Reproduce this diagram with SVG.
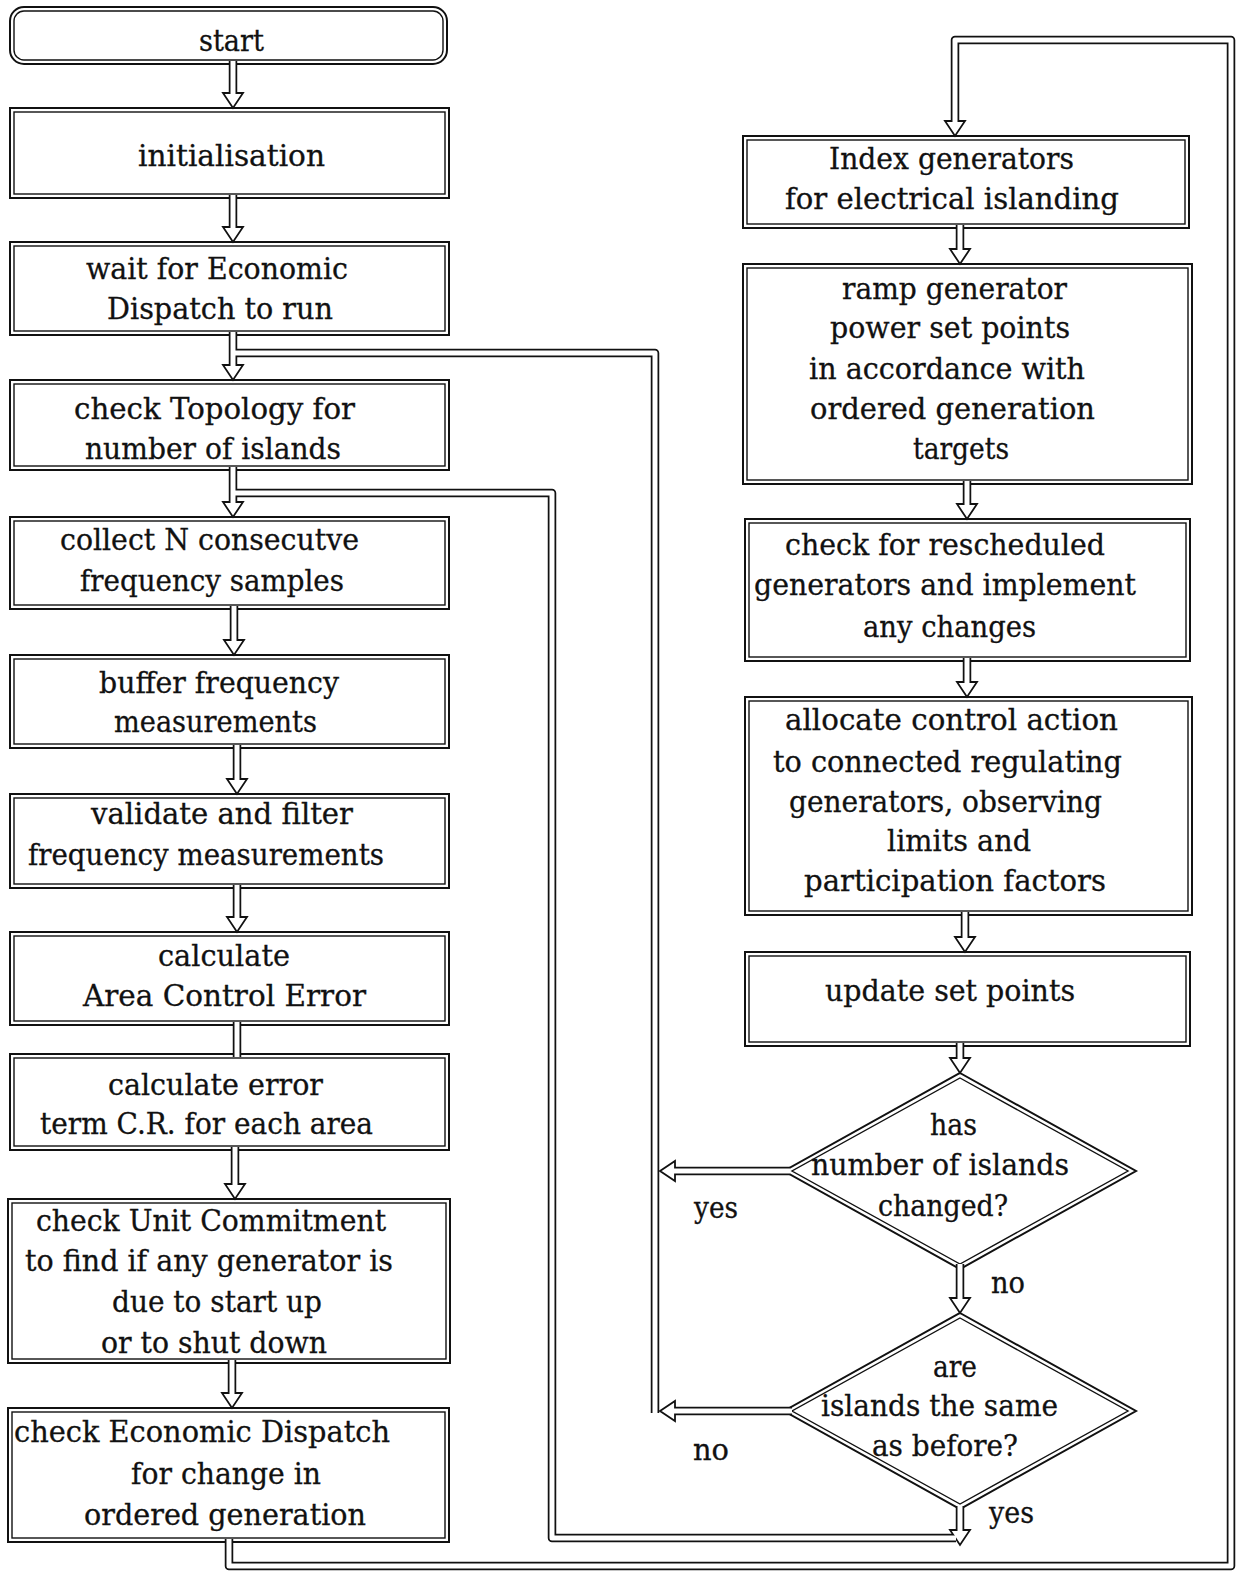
<svg xmlns="http://www.w3.org/2000/svg" xmlns:xlink="http://www.w3.org/1999/xlink" width="1243" height="1579" viewBox="0 0 1243 1579">
  <style>
    .outer { fill: #fff; stroke: #111; stroke-width: 2; }
    .inner { fill: none; stroke: #111; stroke-width: 1.4; }
    .pipe-o { fill: none; stroke: #111; stroke-width: 8.5; stroke-linejoin: round; }
    .pipe-i { fill: none; stroke: #fff; stroke-width: 5; stroke-linejoin: round; }
    .head { fill: #fff; stroke: #111; stroke-width: 1.8; stroke-linejoin: miter; }
    text { font-family: "DejaVu Serif", "Liberation Serif", serif; font-size: 29px; fill: #111; stroke: #111; stroke-width: 0.3; }
  </style>
  <defs>
    <!-- pipe centre lines; each is stroked twice (dark walls, then light core) -->
    <path id="c1" d="M233,61 V96"/>
    <path id="c2" d="M233,195 V230"/>
    <path id="c3" d="M233,332 V368"/>
    <path id="c4" d="M233,467 V505"/>
    <path id="c5" d="M234,606 V643"/>
    <path id="c6" d="M237,745 V782"/>
    <path id="c7" d="M237,885 V920"/>
    <path id="c8" d="M237,1022 V1057"/>
    <path id="c9" d="M235,1147 V1187"/>
    <path id="c10" d="M232,1360 V1396"/>
    <path id="r1" d="M960,225 V252"/>
    <path id="r2" d="M967,481 V507"/>
    <path id="r3" d="M967,658 V685"/>
    <path id="r4" d="M965,912 V940"/>
    <path id="r5" d="M960,1043 V1061"/>
    <path id="r6" d="M960,1264 V1301"/>
    <path id="r7" d="M960,1506 V1533"/>
    <path id="y1" d="M790,1171 H672"/>
    <path id="n2" d="M792,1411 H672"/>
    <!-- return loops -->
    <path id="loopA" d="M655,1413 V353 H233"/>
    <path id="loopB" d="M956,1538 H552 V493 H233"/>
    <path id="loopC" d="M229,1539 V1566 H1231 V40 H955 V124"/>
  </defs>

  <rect width="1243" height="1579" fill="#fff"/>

  <!-- left column -->
  <g id="start">
    <rect class="outer" x="10" y="7" width="437" height="57" rx="14"/>
    <rect class="inner" x="14" y="11" width="429" height="49" rx="10"/>
    <text x="199" y="51" textLength="65" lengthAdjust="spacingAndGlyphs">start</text>
  </g>
  <g id="initialisation">
    <rect class="outer" x="10" y="108" width="439" height="90"/>
    <rect class="inner" x="14" y="112" width="431" height="82"/>
    <text x="138" y="166" textLength="187" lengthAdjust="spacingAndGlyphs">initialisation</text>
  </g>
  <g id="wait-dispatch">
    <rect class="outer" x="10" y="242" width="439" height="93"/>
    <rect class="inner" x="14" y="246" width="431" height="85"/>
    <text x="86" y="279" textLength="262" lengthAdjust="spacingAndGlyphs">wait for Economic</text>
    <text x="107" y="319" textLength="226" lengthAdjust="spacingAndGlyphs">Dispatch to run</text>
  </g>
  <g id="check-topology">
    <rect class="outer" x="10" y="380" width="439" height="90"/>
    <rect class="inner" x="14" y="384" width="431" height="82"/>
    <text x="74" y="419" textLength="281" lengthAdjust="spacingAndGlyphs">check Topology for</text>
    <text x="85" y="459" textLength="256" lengthAdjust="spacingAndGlyphs">number of islands</text>
  </g>
  <g id="collect-samples">
    <rect class="outer" x="10" y="517" width="439" height="92"/>
    <rect class="inner" x="14" y="521" width="431" height="84"/>
    <text x="60" y="550" textLength="299" lengthAdjust="spacingAndGlyphs">collect N consecutve</text>
    <text x="80" y="591" textLength="264" lengthAdjust="spacingAndGlyphs">frequency samples</text>
  </g>
  <g id="buffer-frequency">
    <rect class="outer" x="10" y="655" width="439" height="93"/>
    <rect class="inner" x="14" y="659" width="431" height="85"/>
    <text x="99" y="693" textLength="240" lengthAdjust="spacingAndGlyphs">buffer frequency</text>
    <text x="114" y="732" textLength="203" lengthAdjust="spacingAndGlyphs">measurements</text>
  </g>
  <g id="validate-filter">
    <rect class="outer" x="10" y="794" width="439" height="94"/>
    <rect class="inner" x="14" y="798" width="431" height="86"/>
    <text x="91" y="824" textLength="262" lengthAdjust="spacingAndGlyphs">validate and filter</text>
    <text x="28" y="865" textLength="356" lengthAdjust="spacingAndGlyphs">frequency measurements</text>
  </g>
  <g id="calc-ace">
    <rect class="outer" x="10" y="932" width="439" height="93"/>
    <rect class="inner" x="14" y="936" width="431" height="85"/>
    <text x="158" y="966" textLength="132" lengthAdjust="spacingAndGlyphs">calculate</text>
    <text x="83" y="1006" textLength="283" lengthAdjust="spacingAndGlyphs">Area Control Error</text>
  </g>
  <g id="calc-error-term">
    <rect class="outer" x="10" y="1054" width="439" height="96"/>
    <rect class="inner" x="14" y="1058" width="431" height="88"/>
    <text x="108" y="1095" textLength="215" lengthAdjust="spacingAndGlyphs">calculate error</text>
    <text x="40" y="1134" textLength="333" lengthAdjust="spacingAndGlyphs">term C.R. for each area</text>
  </g>
  <g id="unit-commitment">
    <rect class="outer" x="8" y="1199" width="442" height="164"/>
    <rect class="inner" x="12" y="1203" width="434" height="156"/>
    <text x="36" y="1231" textLength="350" lengthAdjust="spacingAndGlyphs">check Unit Commitment</text>
    <text x="25" y="1271" textLength="368" lengthAdjust="spacingAndGlyphs">to find if any generator is</text>
    <text x="112" y="1312" textLength="210" lengthAdjust="spacingAndGlyphs">due to start up</text>
    <text x="101" y="1353" textLength="226" lengthAdjust="spacingAndGlyphs">or to shut down</text>
  </g>
  <g id="economic-dispatch">
    <rect class="outer" x="8" y="1408" width="441" height="134"/>
    <rect class="inner" x="12" y="1412" width="433" height="126"/>
    <text x="14" y="1442" textLength="376" lengthAdjust="spacingAndGlyphs">check Economic Dispatch</text>
    <text x="131" y="1484" textLength="190" lengthAdjust="spacingAndGlyphs">for change in</text>
    <text x="84" y="1525" textLength="282" lengthAdjust="spacingAndGlyphs">ordered generation</text>
  </g>

  <!-- right column -->
  <g id="index-generators">
    <rect class="outer" x="743" y="136" width="446" height="92"/>
    <rect class="inner" x="747" y="140" width="438" height="84"/>
    <text x="829" y="169" textLength="245" lengthAdjust="spacingAndGlyphs">Index generators</text>
    <text x="785" y="209" textLength="334" lengthAdjust="spacingAndGlyphs">for electrical islanding</text>
  </g>
  <g id="ramp-generator">
    <rect class="outer" x="743" y="264" width="449" height="220"/>
    <rect class="inner" x="747" y="268" width="441" height="212"/>
    <text x="842" y="299" textLength="225" lengthAdjust="spacingAndGlyphs">ramp generator</text>
    <text x="830" y="338" textLength="240" lengthAdjust="spacingAndGlyphs">power set points</text>
    <text x="809" y="379" textLength="276" lengthAdjust="spacingAndGlyphs">in accordance with</text>
    <text x="810" y="419" textLength="285" lengthAdjust="spacingAndGlyphs">ordered generation</text>
    <text x="913" y="459" textLength="96" lengthAdjust="spacingAndGlyphs">targets</text>
  </g>
  <g id="rescheduled">
    <rect class="outer" x="745" y="519" width="445" height="142"/>
    <rect class="inner" x="749" y="523" width="437" height="134"/>
    <text x="785" y="555" textLength="320" lengthAdjust="spacingAndGlyphs">check for rescheduled</text>
    <text x="754" y="595" textLength="382" lengthAdjust="spacingAndGlyphs">generators and implement</text>
    <text x="863" y="637" textLength="173" lengthAdjust="spacingAndGlyphs">any changes</text>
  </g>
  <g id="allocate-control">
    <rect class="outer" x="745" y="697" width="447" height="218"/>
    <rect class="inner" x="749" y="701" width="439" height="210"/>
    <text x="785" y="730" textLength="333" lengthAdjust="spacingAndGlyphs">allocate control action</text>
    <text x="773" y="772" textLength="349" lengthAdjust="spacingAndGlyphs">to connected regulating</text>
    <text x="789" y="812" textLength="313" lengthAdjust="spacingAndGlyphs">generators, observing</text>
    <text x="887" y="851" textLength="144" lengthAdjust="spacingAndGlyphs">limits and</text>
    <text x="804" y="891" textLength="302" lengthAdjust="spacingAndGlyphs">participation factors</text>
  </g>
  <g id="update-set-points">
    <rect class="outer" x="745" y="952" width="445" height="94"/>
    <rect class="inner" x="749" y="956" width="437" height="86"/>
    <text x="825" y="1001" textLength="250" lengthAdjust="spacingAndGlyphs">update set points</text>
  </g>
  <g id="islands-changed">
    <polygon class="outer" points="960,1073 1136,1171 960,1269 784,1171"/>
    <polygon class="inner" points="960,1078 1128,1171 960,1264 792,1171"/>
    <text x="930" y="1135" textLength="47" lengthAdjust="spacingAndGlyphs">has</text>
    <text x="811" y="1175" textLength="258" lengthAdjust="spacingAndGlyphs">number of islands</text>
    <text x="878" y="1216" textLength="130" lengthAdjust="spacingAndGlyphs">changed?</text>
  </g>
  <g id="islands-same">
    <polygon class="outer" points="960,1313 1136,1411 960,1509 784,1411"/>
    <polygon class="inner" points="960,1318 1128,1411 960,1504 792,1411"/>
    <text x="933" y="1377" textLength="44" lengthAdjust="spacingAndGlyphs">are</text>
    <text x="821" y="1416" textLength="237" lengthAdjust="spacingAndGlyphs">islands the same</text>
    <text x="872" y="1456" textLength="146" lengthAdjust="spacingAndGlyphs">as before?</text>
  </g>

  <!-- flow connectors -->
  <g id="connectors">
    <g class="pipe-o">
      <use xlink:href="#loopA"/><use xlink:href="#loopB"/><use xlink:href="#loopC"/>
      <use xlink:href="#c1"/><use xlink:href="#c2"/><use xlink:href="#c3"/><use xlink:href="#c4"/><use xlink:href="#c5"/>
      <use xlink:href="#c6"/><use xlink:href="#c7"/><use xlink:href="#c8"/><use xlink:href="#c9"/><use xlink:href="#c10"/>
      <use xlink:href="#r1"/><use xlink:href="#r2"/><use xlink:href="#r3"/><use xlink:href="#r4"/><use xlink:href="#r5"/>
      <use xlink:href="#r6"/><use xlink:href="#r7"/><use xlink:href="#y1"/><use xlink:href="#n2"/>
    </g>
    <g class="head">
      <polygon points="223,93 243,93 233,108"/>
      <polygon points="223,227 243,227 233,242"/>
      <polygon points="223,365 243,365 233,380"/>
      <polygon points="223,502 243,502 233,517"/>
      <polygon points="224,640 244,640 234,655"/>
      <polygon points="227,779 247,779 237,794"/>
      <polygon points="227,917 247,917 237,932"/>
      <polygon points="225,1184 245,1184 235,1199"/>
      <polygon points="222,1393 242,1393 232,1408"/>
      <polygon points="945,121 965,121 955,136"/>
      <polygon points="950,249 970,249 960,264"/>
      <polygon points="957,504 977,504 967,519"/>
      <polygon points="957,682 977,682 967,697"/>
      <polygon points="955,937 975,937 965,952"/>
      <polygon points="950,1058 970,1058 960,1073"/>
      <polygon points="950,1298 970,1298 960,1313"/>
      <polygon points="950,1530 970,1530 960,1545"/>
      <polygon points="675,1161 675,1181 660,1171"/>
      <polygon points="675,1401 675,1421 660,1411"/>
    </g>
    <g class="pipe-i">
      <use xlink:href="#loopA"/><use xlink:href="#loopB"/><use xlink:href="#loopC"/>
      <use xlink:href="#c1"/><use xlink:href="#c2"/><use xlink:href="#c3"/><use xlink:href="#c4"/><use xlink:href="#c5"/>
      <use xlink:href="#c6"/><use xlink:href="#c7"/><use xlink:href="#c8"/><use xlink:href="#c9"/><use xlink:href="#c10"/>
      <use xlink:href="#r1"/><use xlink:href="#r2"/><use xlink:href="#r3"/><use xlink:href="#r4"/><use xlink:href="#r5"/>
      <use xlink:href="#r6"/><use xlink:href="#r7"/><use xlink:href="#y1"/><use xlink:href="#n2"/>
    </g>
    <text x="694" y="1218" textLength="44" lengthAdjust="spacingAndGlyphs">yes</text>
    <text x="991" y="1293" textLength="34" lengthAdjust="spacingAndGlyphs">no</text>
    <text x="693" y="1460" textLength="36" lengthAdjust="spacingAndGlyphs">no</text>
    <text x="989" y="1523" textLength="45" lengthAdjust="spacingAndGlyphs">yes</text>
  </g>
</svg>
